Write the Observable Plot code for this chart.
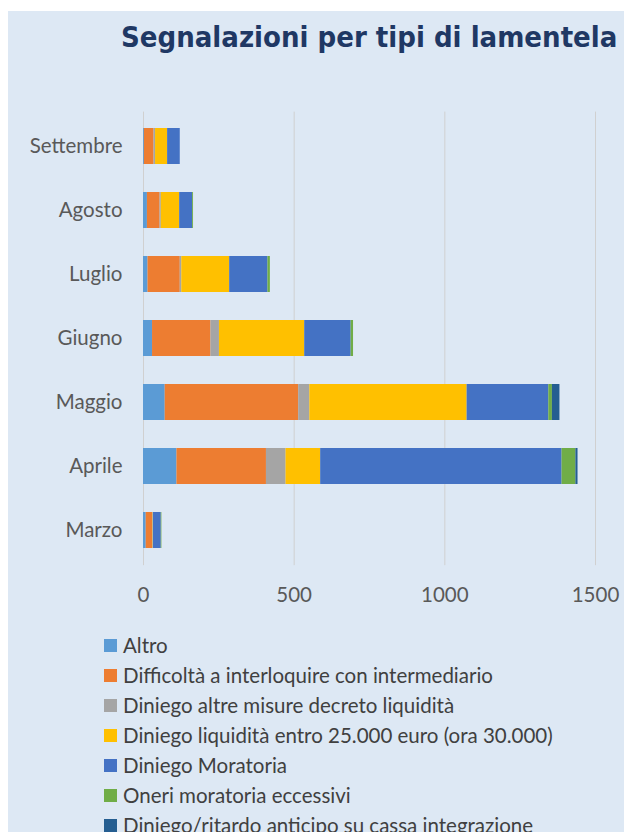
<!DOCTYPE html>
<html>
<head>
<meta charset="utf-8">
<script src="https://cdn.jsdelivr.net/npm/d3@7"></script>
<script src="https://cdn.jsdelivr.net/npm/@observablehq/plot@0.6"></script>
<style>
  html, body { margin: 0; padding: 0; background: #ffffff; }
  #page { position: relative; width: 624px; height: 832px; overflow: hidden; background: #ffffff; }
  #panel { position: absolute; left: 8px; top: 11px; right: 0; bottom: 0; background: #dde8f4; }
  #title { position: absolute; left: 121px; top: 23px; white-space: nowrap;
           font-family: "DejaVu Sans Condensed", "DejaVu Sans", sans-serif; font-weight: bold;
           font-size: 29px; color: #1f3864; line-height: 1; }
  #chart { position: absolute; left: 0; top: 0; }
  #legend { position: absolute; left: 104px; top: 630px; font-family: Lato, sans-serif;
            font-size: 20.5px; color: #404040; }
  .item { height: 30px; display: flex; align-items: center; white-space: nowrap; }
  .sw { width: 13px; height: 13px; margin-right: 6px; flex: none; }
</style>
</head>
<body>
<div id="page">
  <div id="panel"></div>
  <div id="title">Segnalazioni per tipi di lamentela</div>
  <div id="chart"></div>
  <div id="legend"></div>
</div>
<script>
const months = ["Settembre", "Agosto", "Luglio", "Giugno", "Maggio", "Aprile", "Marzo"];
const seriesNames = [
  "Altro",
  "Difficoltà a interloquire con intermediario",
  "Diniego altre misure decreto liquidità",
  "Diniego liquidità entro 25.000 euro (ora 30.000)",
  "Diniego Moratoria",
  "Oneri moratoria eccessivi",
  "Diniego/ritardo anticipo su cassa integrazione"
];
const seriesColors = ["#5b9bd5", "#ed7d31", "#a5a5a5", "#ffc000", "#4472c4", "#70ad47", "#255e91"];
// values per month, in the order of `months`
const altro       = [3, 13, 15, 30, 72, 111, 9];
const difficolta  = [32, 42, 107, 194, 443, 297, 21];
const altreMisure = [5, 4, 5, 28, 37, 65, 2];
const liquidita   = [40, 61, 159, 283, 522, 115, 1];
const moratoria   = [42, 43, 127, 154, 271, 801, 26];
const oneri       = [0, 3, 8, 8, 12, 46, 2];
const cassa       = [0, 0, 0, 0, 25, 7, 0];
const xTicks = [0, 500, 1000, 1500];

const seriesValues = [altro, difficolta, altreMisure, liquidita, moratoria, oneri, cassa];
const rows = [];
seriesNames.forEach((s, i) => months.forEach((m, j) => rows.push({month: m, series: s, value: seriesValues[i][j]})));

const chart = Plot.plot({
  width: 624,
  height: 610,
  marginLeft: 143,
  marginRight: 29,
  marginTop: 111.6,
  marginBottom: 44.8,
  style: {background: "transparent", fontFamily: "Lato, sans-serif", fontSize: "20.5px", color: "#595959"},
  x: {domain: [0, 1500], ticks: xTicks, tickFormat: d => String(d), grid: false, label: null},
  y: {domain: months, paddingInner: 0.43, paddingOuter: 0.215, label: null},
  color: {domain: seriesNames, range: seriesColors},
  marks: [
    Plot.gridX(xTicks, {stroke: "#d0d0d0", strokeOpacity: 1, strokeWidth: 1}),
    Plot.barX(rows, {x: "value", y: "month", fill: "series", order: seriesNames}),
    Plot.axisX(xTicks, {tickSize: 0, tickPadding: 22, fontSize: 20.5, fill: "#595959", tickFormat: d => String(d), label: null}),
    Plot.axisY({tickSize: 0, tickPadding: 21, fontSize: 20.5, fill: "#595959", label: null})
  ]
});
document.getElementById("chart").appendChild(chart);

const legend = document.getElementById("legend");
seriesNames.forEach((s, i) => {
  const it = document.createElement("div");
  it.className = "item";
  const sw = document.createElement("span");
  sw.className = "sw";
  sw.style.background = seriesColors[i];
  const tx = document.createElement("span");
  tx.textContent = s;
  it.appendChild(sw);
  it.appendChild(tx);
  legend.appendChild(it);
});
</script>
</body>
</html>
